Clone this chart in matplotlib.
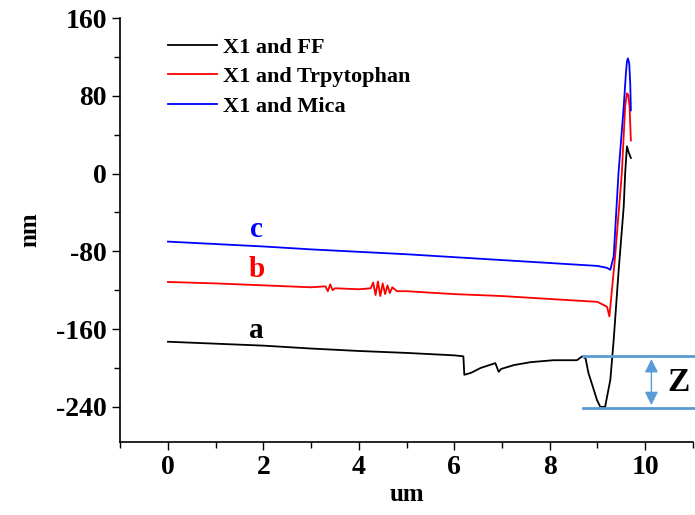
import matplotlib
matplotlib.use("Agg")
import matplotlib.pyplot as plt

plt.rcParams['font.family'] = ['Liberation Serif', 'DejaVu Serif']
plt.rcParams['font.weight'] = 'bold'
plt.rcParams['axes.labelweight'] = 'bold'
plt.rcParams['axes.unicode_minus'] = False

# curve a: X1 and FF
x_ff = [0, 1, 2, 3, 4, 5, 6, 6.19, 6.21, 6.35, 6.55, 6.86, 6.93, 6.98, 7.25,
        7.6, 8.08, 8.57, 8.68, 8.75, 8.81, 8.92, 8.99, 9.06, 9.16, 9.27, 9.34,
        9.44, 9.55, 9.58, 9.617, 9.652, 9.70]
y_ff = [-173, -175, -177, -180, -182.5, -184.5, -187, -188, -207, -205, -200,
        -195, -204, -201, -197, -194, -192, -192, -188, -190, -205, -222, -233,
        -240, -240, -212, -171, -102, -34, 0, 28, 22, 16]

# curve b: X1 and Trpytophan
x_trp = [0, 1, 2, 3, 3.3, 3.35, 3.4, 3.45, 3.5, 4, 4.25, 4.3, 4.35, 4.4, 4.45,
         4.5, 4.55, 4.6, 4.65, 4.7, 4.8, 5, 6, 7, 8, 9, 9.2, 9.25, 9.37, 9.51,
         9.58, 9.617, 9.645, 9.673, 9.70]
y_trp = [-111.5, -113, -115, -117, -116, -121, -114, -120, -118, -119, -118,
         -112, -125, -111, -126, -113, -124, -115, -123, -117, -121, -121,
         -124, -126, -129, -132, -137, -147, -85, 0, 69, 82.5, 81, 69, 34]

# curve c: X1 and Mica
x_mica = [0, 1, 2, 3, 4, 5, 6, 7, 8, 9, 9.2, 9.27, 9.34, 9.44, 9.55, 9.596,
          9.617, 9.638, 9.666, 9.687, 9.70]
y_mica = [-70, -72.5, -75, -78, -80.5, -83, -86, -89, -92, -95, -97, -99, -85,
          0, 69, 103, 115, 118.5, 113, 92, 65]

# step height Z
z_top = -188
z_bottom = -241

fig = plt.figure(figsize=(6.95, 5.15), dpi=100)
ax = fig.add_axes([0.173, 0.142, 0.824, 0.823])

ax.plot(x_ff, y_ff, color='black', lw=1.3, label='X1 and FF')
ax.plot(x_trp, y_trp, color='red', lw=1.3, label='X1 and Trpytophan')
ax.plot(x_mica, y_mica, color='blue', lw=1.3, label='X1 and Mica')

ax.text(1.86, -58, 'c', color='blue', fontsize=21, ha='center', va='center')
ax.text(1.86, -99, 'b', color='red', fontsize=21, ha='center', va='center')
ax.text(1.86, -161, 'a', color='black', fontsize=21, ha='center', va='center')

# Z annotation
zc = '#5B9BD5'
ax.plot([8.7, 11.1], [z_top, z_top], color=zc, lw=2, clip_on=False)
ax.plot([8.7, 11.1], [z_bottom, z_bottom], color=zc, lw=2, clip_on=False)
ax.annotate('', xy=(10.13, z_bottom), xytext=(10.13, z_top),
            arrowprops=dict(arrowstyle='<|-|>', color=zc, lw=1, mutation_scale=20))
ax.text(10.7, (z_top + z_bottom) / 2, 'Z', fontsize=24, ha='center', va='center')

ax.set_xlim(-1, 11)
ax.set_ylim(-276, 160)
ax.set_xticks([0, 2, 4, 6, 8, 10])
ax.set_xticks([-1, 1, 3, 5, 7, 9, 11], minor=True)
ax.set_yticks([-240, -160, -80, 0, 80, 160])
ax.set_yticks([-200, -120, -40, 40, 120], minor=True)
ax.tick_params(which='both', direction='out', labelsize=20, width=1)
ax.tick_params(which='major', length=6)
ax.tick_params(which='minor', length=4)
ax.spines['top'].set_visible(False)
ax.spines['right'].set_visible(False)
ax.spines['left'].set_linewidth(1.2)
ax.spines['bottom'].set_linewidth(1.2)

ax.set_xlabel('um', fontsize=18, va='center')
ax.set_ylabel('nm', fontsize=18, va='center')
ax.xaxis.set_label_coords(0.5, -0.125)
ax.yaxis.set_label_coords(-0.157, 0.5)

ax.legend(loc='upper left', bbox_to_anchor=(0.068, 0.976), borderaxespad=0,
          frameon=False, fontsize=16, handlelength=2.2, handletextpad=0.25,
          labelspacing=0.4)

fig.savefig('out.png', dpi=100)
